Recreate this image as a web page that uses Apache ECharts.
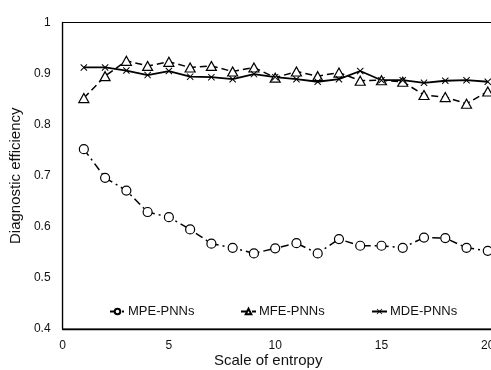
<!DOCTYPE html>
<html>
<head>
<meta charset="utf-8">
<script src="https://cdn.jsdelivr.net/npm/echarts@6/dist/echarts.min.js"></script>
<style>
html,body{margin:0;padding:0;background:#fff;overflow:hidden;width:491px;height:370px;}
#c{width:540px;height:370px;}
</style>
</head>
<body>
<div id="c"></div>
<script>
const scales = [1,2,3,4,5,6,7,8,9,10,11,12,13,14,15,16,17,18,19,20];
const mpe = [0.752,0.696,0.671,0.629,0.619,0.595,0.567,0.559,0.548,0.558,0.568,0.548,0.576,0.563,0.563,0.559,0.579,0.578,0.559,0.553];
const mfe = [0.852,0.895,0.925,0.915,0.923,0.912,0.915,0.904,0.912,0.892,0.904,0.895,0.902,0.886,0.887,0.884,0.858,0.854,0.841,0.865];
const mde = [0.912,0.912,0.906,0.897,0.905,0.894,0.893,0.889,0.899,0.893,0.889,0.884,0.889,0.905,0.887,0.887,0.882,0.886,0.887,0.884];
const seriesNames = ['MPE-PNNs','MFE-PNNs','MDE-PNNs'];
const yTicks = {min:0.4, max:1, interval:0.1};
const xTicks = {min:0, max:22, interval:5};

const pair = arr => scales.map((s,i)=>[s,arr[i]]);
const font = 'Liberation Sans, Arial, sans-serif';
const crossPath = 'path://M0,1L1,0L5,4L9,0L10,1L6,5L10,9L9,10L5,6L1,10L0,9L4,5Z';

const chart = echarts.init(document.getElementById('c'), null, {renderer:'canvas'});
const legendBase = {orient:'horizontal', top:300, itemWidth:15, itemHeight:7, itemGap:0,
  textStyle:{fontFamily:font, fontSize:13, color:'#111', padding:[0,0,0,-2]}};
chart.setOption({
  animation:false,
  backgroundColor:'#fff',
  grid:{left:59.5, top:22.5, bottom:41, width:470.8, show:true, borderColor:'#000', borderWidth:1, backgroundColor:'transparent'},
  xAxis:{type:'value', min:xTicks.min, max:xTicks.max, interval:xTicks.interval,
    axisLine:{show:true, lineStyle:{color:'#000', width:1.3}}, axisTick:{show:false}, splitLine:{show:false},
    axisLabel:{fontFamily:font, fontSize:12, color:'#111', margin:11, showMaxLabel:false}},
  yAxis:{type:'value', min:yTicks.min, max:yTicks.max, interval:yTicks.interval,
    name:'Diagnostic efficiency', nameLocation:'middle', nameGap:33,
    nameTextStyle:{fontFamily:font, fontSize:15, color:'#111'},
    axisLine:{show:true, lineStyle:{color:'#000', width:1.3}}, axisTick:{show:false}, splitLine:{show:false},
    axisLabel:{fontFamily:font, fontSize:12, color:'#111', margin:12, formatter: v => String(Math.round(v*10)/10)}},
  legend:[
    Object.assign({data:[seriesNames[0]], left:104}, legendBase),
    Object.assign({data:[seriesNames[1]], left:235}, legendBase),
    Object.assign({data:[seriesNames[2]], left:366}, legendBase)
  ],
  graphic:[{type:'text', left:214, top:353, style:{text:'Scale of entropy', font:'15px ' + font, fill:'#111'}}],
  series:[
    {name:seriesNames[0], type:'line', data:pair(mpe), symbol:'circle', symbolSize:9,
      lineStyle:{color:'#000', width:1.5, type:[8,4,2,4]},
      itemStyle:{color:'#fff', borderColor:'#000', borderWidth:1.2}},
    {name:seriesNames[1], type:'line', data:pair(mfe), symbol:'triangle', symbolSize:[10,9],
      lineStyle:{color:'#000', width:1.5, type:[7,4]},
      itemStyle:{color:'#fff', borderColor:'#000', borderWidth:1.2}},
    {name:seriesNames[2], type:'line', data:pair(mde), symbol:crossPath, symbolSize:7,
      lineStyle:{color:'#000', width:1.8, type:'solid'},
      itemStyle:{color:'#000', borderColor:'#000', borderWidth:0}}
  ]
});
</script>
</body>
</html>
